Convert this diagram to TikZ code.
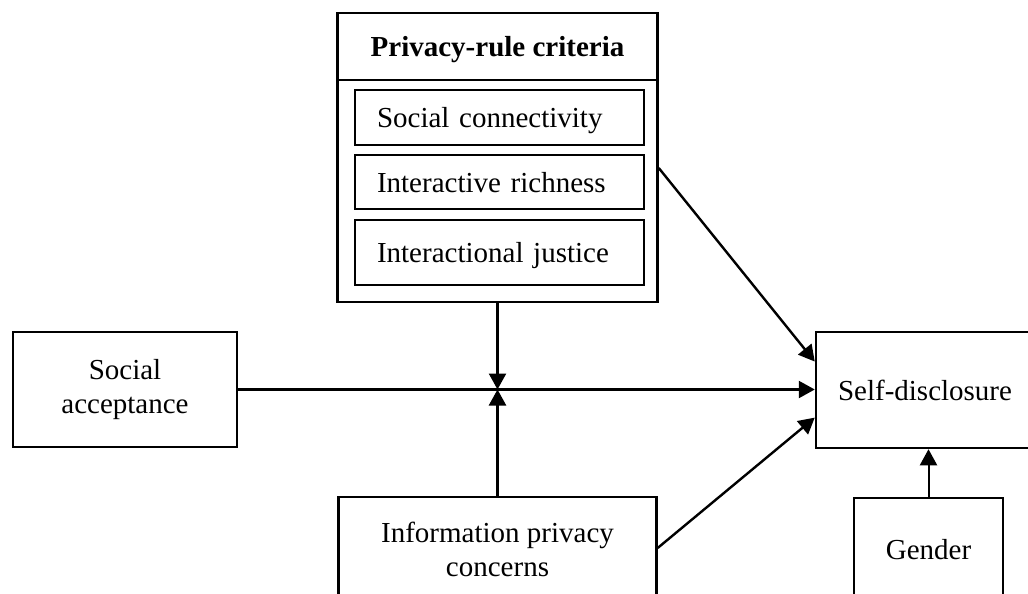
\documentclass[tikz,border=0pt]{standalone}
\usepackage{fontspec}
\setmainfont{Liberation Serif}
\usetikzlibrary{arrows.meta,calc}
\begin{document}
\begin{tikzpicture}[x=1pt,y=-1pt,
  box/.style={draw,line width=2.5pt,rectangle,inner sep=0pt,align=center,font=\fontsize{29}{34}\selectfont},
  one/.style={text height=20pt,text depth=0pt},
  inner/.style={box,one,minimum width=289pt,text width=245pt,inner xsep=22pt,align=left},
  arr/.style={line width=2.4pt,-{Triangle[length=16pt,width=17pt]}}]
\useasboundingbox (0,0) rectangle (1028,594);
\clip (0,0) rectangle (1028,594);
\fill[white] (0,0) rectangle (1028,594);
% privacy-rule criteria group
\node[box,minimum width=320pt,minimum height=289pt] (prc) at (497.5,157.5) {};
\node[box,one,minimum width=320pt,minimum height=67pt,font=\fontsize{29}{34}\selectfont\bfseries] (prh) at (497.5,46.5) {Privacy-rule criteria};
\node[inner,minimum height=55pt] (sc) at (499.5,117.5) {Social connectivity};
\node[inner,minimum height=54pt] (ir) at (499.5,182) {Interactive richness};
\node[inner,minimum height=65pt] (ij) at (499.5,252.5) {Interactional justice};
% other boxes
\node[box,minimum width=224pt,minimum height=115pt] (sa) at (125,389.5) {Social\\acceptance};
\node[box,one,minimum width=218pt,minimum height=116pt] (sd) at (925,390) {Self-disclosure};
\node[box,minimum width=318pt,minimum height=104pt] (info) at (497.5,549) {Information privacy\\concerns};
\node[box,one,minimum width=149pt,minimum height=102pt] (g) at (928.5,549) {Gender};
% connectors
\coordinate (j) at (prc.south |- sa.east);
\draw[arr] (prc.south) -- (j);
\draw[arr] (info.north) -- (j);
\draw[arr] (sa.east) -- (sa.east -| sd.west);
\draw[arr] ($(prc.north east)!0.536!(prc.south east)$) -- ($(sd.north west)!0.26!(sd.south west)$);
\draw[arr] ($(info.north east)!0.49!(info.south east)$) -- ($(sd.north west)!0.733!(sd.south west)$);
\draw[arr,line width=2pt] (g.north) -- (g.north |- sd.south);
\end{tikzpicture}
\end{document}
